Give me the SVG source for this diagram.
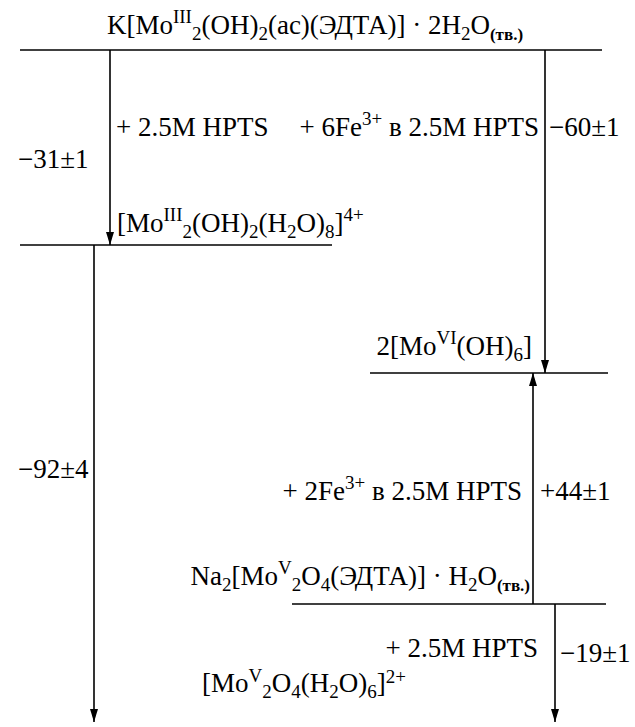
<svg xmlns="http://www.w3.org/2000/svg" width="635" height="727" viewBox="0 0 635 727">
  <style>
    text { font-family: "Liberation Serif", "Times New Roman", serif; font-size: 27px; fill: #000; }
    .s { font-size: 19px; }
    .t { font-size: 17px; font-weight: bold; }
    .lvl { stroke: #000; stroke-width: 1.6; fill: none; }
    .arr { stroke: #000; stroke-width: 1.6; fill: none; marker-end: url(#head); }
  </style>
  <defs>
    <marker id="head" markerUnits="userSpaceOnUse" markerWidth="14" markerHeight="8" refX="13" refY="4" orient="auto">
      <path d="M0,0 L13,4 L0,8 z" fill="#000"/>
    </marker>
  </defs>

  <!-- energy levels -->
  <g id="level-k-solid">
    <line class="lvl" x1="20" y1="50" x2="602" y2="50"/>
    <text x="315" y="34" text-anchor="middle">K[Mo<tspan class="s" dy="-11">III</tspan><tspan class="s" dy="17">2</tspan><tspan dy="-6">(OH)</tspan><tspan class="s" dy="6">2</tspan><tspan dy="-6">(ac)(ЭДТА)] · 2H</tspan><tspan class="s" dy="6">2</tspan><tspan dy="-6">O</tspan><tspan class="t" dy="6">(тв.)</tspan></text>
  </g>

  <g id="level-mo3-aq">
    <line class="lvl" x1="20" y1="245" x2="332" y2="245"/>
    <text x="117" y="232">[Mo<tspan class="s" dy="-11">III</tspan><tspan class="s" dy="17">2</tspan><tspan dy="-6">(OH)</tspan><tspan class="s" dy="6">2</tspan><tspan dy="-6">(H</tspan><tspan class="s" dy="6">2</tspan><tspan dy="-6">O)</tspan><tspan class="s" dy="6">8</tspan><tspan dy="-6">]</tspan><tspan class="s" dy="-11">4+</tspan></text>
  </g>

  <g id="level-mo6">
    <line class="lvl" x1="370" y1="373" x2="608" y2="373"/>
    <text x="532" y="355" text-anchor="end">2[Mo<tspan class="s" dy="-11">VI</tspan><tspan dy="11">(OH)</tspan><tspan class="s" dy="6">6</tspan><tspan dy="-6">]</tspan></text>
  </g>

  <g id="level-na-solid">
    <line class="lvl" x1="292" y1="604" x2="606" y2="604"/>
    <text x="530" y="585" text-anchor="end">Na<tspan class="s" dy="6">2</tspan><tspan dy="-6">[Mo</tspan><tspan class="s" dy="-11">V</tspan><tspan class="s" dy="17">2</tspan><tspan dy="-6">O</tspan><tspan class="s" dy="6">4</tspan><tspan dy="-6">(ЭДТА)] · H</tspan><tspan class="s" dy="6">2</tspan><tspan dy="-6">O</tspan><tspan class="t" dy="6">(тв.)</tspan></text>
  </g>

  <g id="level-mo5-aq">
    <text x="202" y="692">[Mo<tspan class="s" dy="-10">V</tspan><tspan class="s" dy="16">2</tspan><tspan dy="-6">O</tspan><tspan class="s" dy="6">4</tspan><tspan dy="-6">(H</tspan><tspan class="s" dy="6">2</tspan><tspan dy="-6">O)</tspan><tspan class="s" dy="6">6</tspan><tspan dy="-6">]</tspan><tspan class="s" dy="-9">2+</tspan></text>
  </g>

  <!-- transitions -->
  <g id="connectors">
    <line class="arr" x1="110" y1="50" x2="110" y2="245"/>
    <line class="arr" x1="545" y1="50" x2="545" y2="373"/>
    <line class="arr" x1="94" y1="245" x2="94" y2="722"/>
    <line class="arr" x1="533" y1="604" x2="533" y2="373"/>
    <line class="arr" x1="555" y1="604" x2="555" y2="722"/>
  </g>

  <!-- reaction conditions and enthalpies -->
  <g id="labels">
    <text x="116" y="136">+ 2.5M HPTS</text>
    <text x="539" y="136" text-anchor="end">+ 6Fe<tspan class="s" dy="-11">3+</tspan><tspan dy="11"> в 2.5M HPTS</tspan></text>
    <text x="549" y="136">−60±1</text>
    <text x="18" y="168">−31±1</text>
    <text x="18" y="478">−92±4</text>
    <text x="522" y="500" text-anchor="end">+ 2Fe<tspan class="s" dy="-11">3+</tspan><tspan dy="11"> в 2.5M HPTS</tspan></text>
    <text x="540" y="500">+44±1</text>
    <text x="538" y="657" text-anchor="end">+ 2.5M HPTS</text>
    <text x="560" y="662">−19±1</text>
  </g>
</svg>
